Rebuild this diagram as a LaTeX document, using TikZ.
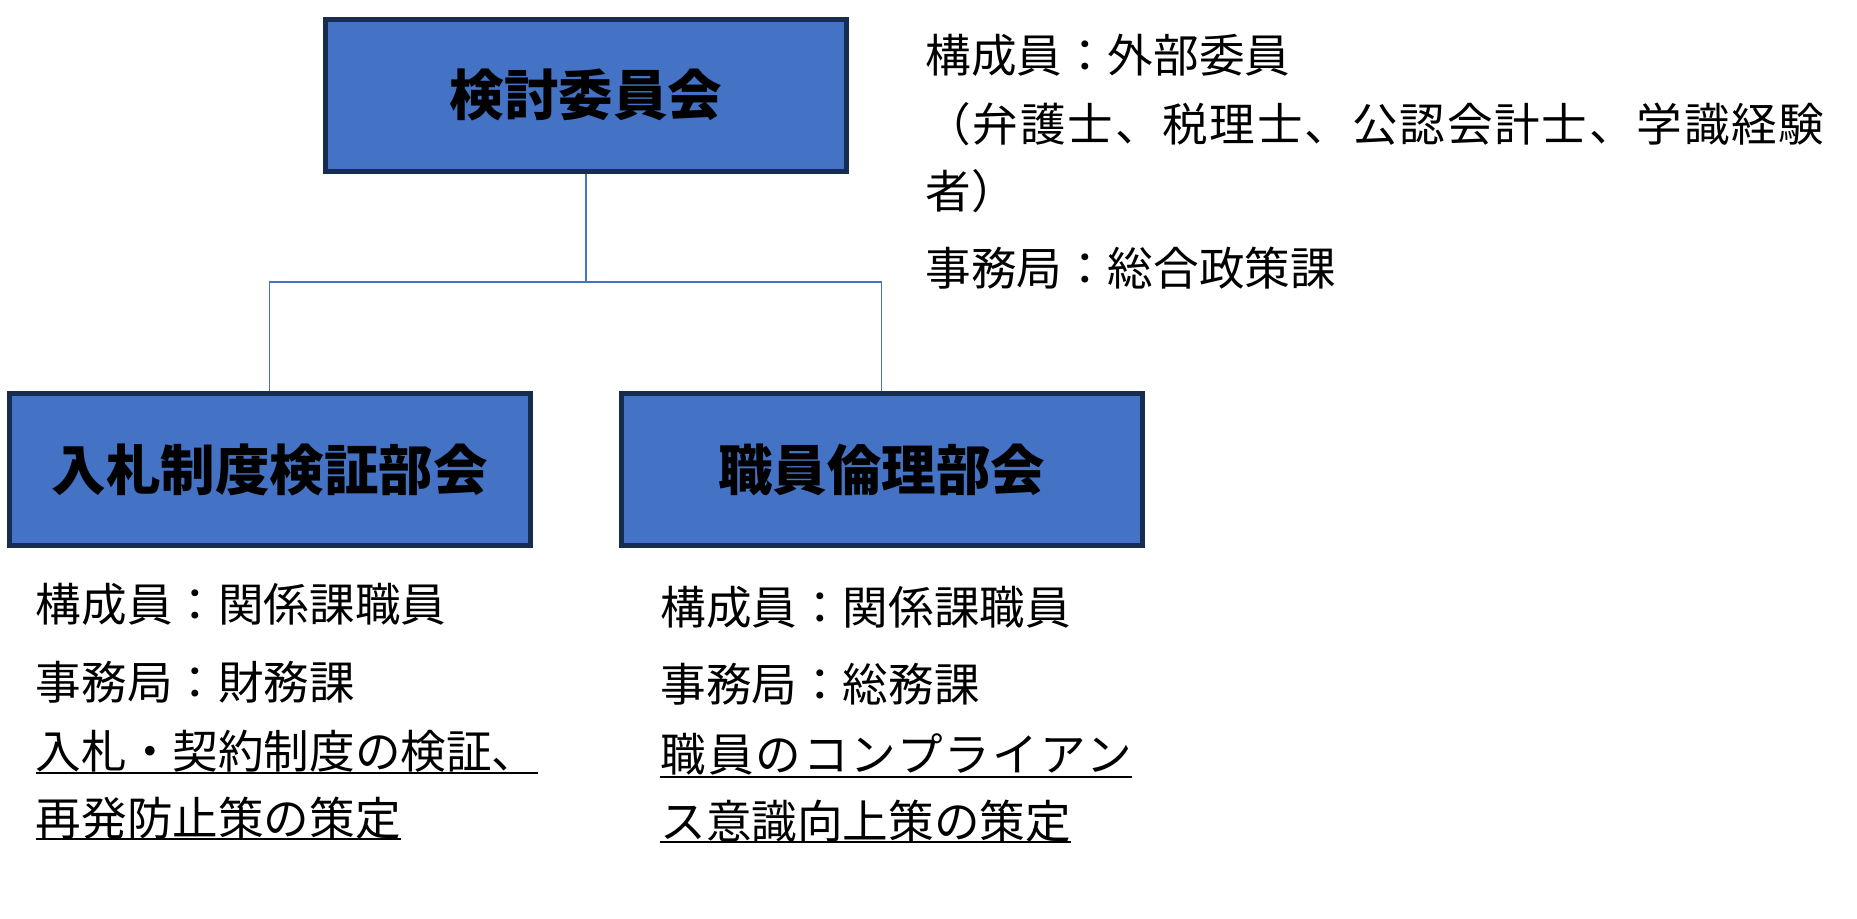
\documentclass[tikz,border=0pt]{standalone}
\usepackage{fontspec}
\setmainfont{Noto Sans CJK JP}
\definecolor{boxfill}{HTML}{4472C4}
\definecolor{boxline}{HTML}{172C51}
\definecolor{connblue}{HTML}{4472C4}
\tikzset{
  unitbox/.style={draw=boxline, fill=boxfill, line width=2.5pt, minimum width=260.5pt, minimum height=76pt, inner sep=0pt, font=\fontsize{27.25}{32}\selectfont\bfseries},
  info/.style={anchor=west, inner sep=0pt, font=\fontsize{22.8}{28}\selectfont},
  connline/.style={draw=connblue, line width=0.8pt},
  uline/.style={draw=black, line width=1pt}
}
\begin{document}
\begin{tikzpicture}[x=0.5pt,y=-0.5pt]
\useasboundingbox (0,0) rectangle (1857,918);
% boxes
\node[unitbox] (top) at (586,95.3) {検討委員会};
\node[unitbox] (left) at (269.5,469.5) {入札制度検証部会};
\node[unitbox] (right) at (881.5,469.5) {職員倫理部会};
% connectors
\coordinate (bus) at (0,282);
\draw[connline] (top.south) -- (top.south |- bus) -| (left.north);
\draw[connline] (top.south |- bus) -| (right.north);
% top-right info
\node[info] (t1) at (925,55.7) {構成員：外部委員};
\node[info] (t2) at (925,124) {\addfontfeature{LetterSpace=4}（弁護士、税理士、公認会計士、学識経験};
\node[info] (t3) at (925,190.7) {者）};
\node[info] (t4) at (925,267.7) {事務局：総合政策課};
% left info
\node[info] (l1) at (35.5,604) {構成員：関係課職員};
\node[info] (l2) at (35.5,682) {事務局：財務課};
\node[info] (l3) at (35.5,751) {入札・契約制度の検証、};
\node[info] (l4) at (35.5,818) {再発防止策の策定};
\draw[uline] ([yshift=-10.75pt]l3.west) -- ([yshift=-10.75pt]l3.east);
\draw[uline] ([yshift=-10.25pt]l4.west) -- ([yshift=-10.25pt]l4.east);
% right info
\node[info] (r1) at (660,607.5) {構成員：関係課職員};
\node[info] (r2) at (660,684.5) {事務局：総務課};
\node[info] (r3) at (660,754) {\addfontfeature{LetterSpace=4.5}職員のコンプライアン};
\node[info] (r4) at (660,821) {ス意識向上策の策定};
\draw[uline] ([yshift=-11.5pt]r3.west) -- ([yshift=-11.5pt]r3.east);
\draw[uline] ([yshift=-10.5pt]r4.west) -- ([yshift=-10.5pt]r4.east);
\end{tikzpicture}
\end{document}
